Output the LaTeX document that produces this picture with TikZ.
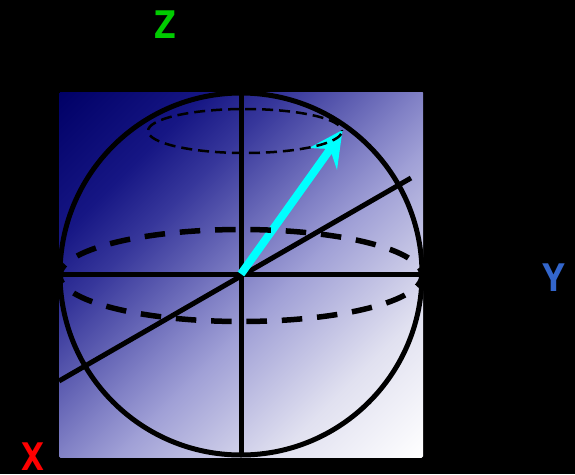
\documentclass[tikz,border=0pt]{standalone}
\usepackage{fontspec}
\setmainfont[BoldFont={DejaVu Sans Mono Bold}]{DejaVu Sans Mono}
\definecolor{g0}{RGB}{0,0,102}
\definecolor{g1}{RGB}{22,22,132}
\definecolor{g2}{RGB}{55,55,155}
\definecolor{g3}{RGB}{90,90,175}
\definecolor{g35}{RGB}{130,130,198}
\definecolor{g4}{RGB}{160,160,214}
\definecolor{g5}{RGB}{225,225,240}
\definecolor{vectorcyan}{RGB}{0,255,255}
\pgfdeclareverticalshading{blochgrad}{100bp}{color(0bp)=(white); color(20bp)=(g5); color(42bp)=(g4); color(50bp)=(g35); color(60bp)=(g3); color(69bp)=(g2); color(80bp)=(g1); color(100bp)=(g0)}
\tikzset{
  axisline/.style={draw=black,line width=5pt},
  eqring/.style={draw=black,line width=5.5pt,dash pattern=on 20.5pt off 14.85pt,dash phase=8.3pt},
  topring/.style={draw=black,line width=2.5pt,dash pattern=on 11pt off 6pt,dash phase=14pt},
  axislabel/.style={font=\bfseries\fontsize{38}{38}\selectfont,inner sep=0pt,anchor=center},
}
\begin{document}
\begin{tikzpicture}[x=1pt,y=-1pt]
\fill[black] (0,0) rectangle (575,474);
\useasboundingbox (0,0) rectangle (575,474);
\begin{scope}
\clip (59,92) rectangle (423,457);
\begin{scope}[shift={(241,274.5)}]
\node[transform shape,rotate=45,scale=5.127,inner sep=0pt] (grad) at (0,0) {\pgfuseshading{blochgrad}};
\end{scope}
\end{scope}
\coordinate (zt) at (241,92); \coordinate (zb) at (241,457);
\coordinate (yl) at (59,274); \coordinate (yr) at (423,274);
\coordinate (xa) at (59,381); \coordinate (xb) at (411,178);
\coordinate (o) at (241,274); \coordinate (tip) at (342.5,130);
\draw[axisline] (241,274) circle (181);
\draw[axisline] (zt) -- (zb);
\draw[axisline] (yl) -- (yr);
\draw[axisline] (xa) -- (xb);
\draw[vectorcyan,line width=8pt] (o) -- (331,148);
\fill[vectorcyan] (tip) -- (309,148) -- (330,149) -- (337,170) -- cycle;
\draw[eqring] (241,275.5) ellipse [x radius=181,y radius=46];
\draw[topring] (245,131) ellipse [x radius=97,y radius=22];
\node[axislabel,text=red] (xl) at (33,456.5) {X};
\node[axislabel,text={rgb,255:red,51;green,102;blue,204}] (ylab) at (554,278) {Y};
\node[axislabel,text={rgb,255:red,0;green,204;blue,0}] (zl) at (165,25) {Z};
\end{tikzpicture}
\end{document}
